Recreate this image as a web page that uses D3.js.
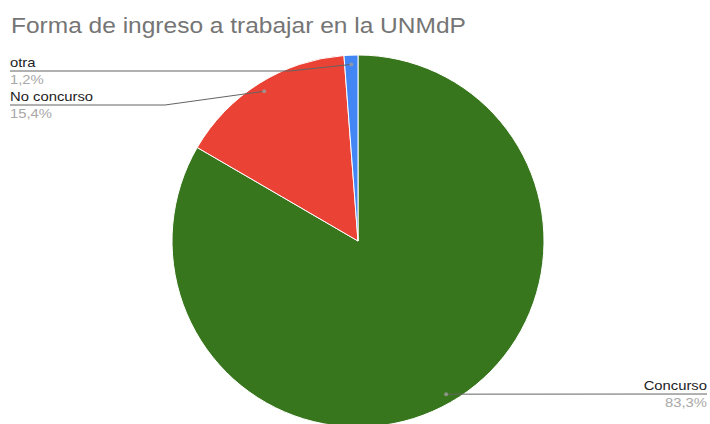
<!DOCTYPE html>
<html>
<head>
<meta charset="utf-8">
<script src="https://cdn.jsdelivr.net/npm/d3@7"></script>
<style>
  html, body { margin: 0; padding: 0; background: #fff; }
  svg { display: block; font-family: Arial, "Liberation Sans", sans-serif; }
</style>
</head>
<body>
<svg id="chart" width="710" height="424"></svg>
<script>
// Data: share of people by how they entered work at the UNMdP
const categories = ["Concurso", "No concurso", "otra"];
const values = [83.3, 15.4, 1.2];
const colors = ["#38761d", "#ea4335", "#4285f4"];
const title = "Forma de ingreso a trabajar en la UNMdP";

const svg = d3.select("#chart");
const W = 710, H = 424;
const cx = 358, cy = 241, r = 186;
const textStretch = 1.14;   // text is drawn slightly widened

svg.append("text")
  .attr("transform", `translate(11,33) scale(${textStretch},1)`)
  .attr("font-size", 21.5)
  .attr("fill", "#757575")
  .text(title);

const pie = d3.pie().sort(null).value(d => d.value);
const arcs = pie(categories.map((c, i) => ({ name: c, value: values[i], color: colors[i] })));
const arc = d3.arc().innerRadius(0).outerRadius(r);

const g = svg.append("g").attr("transform", `translate(${cx},${cy})`);
g.selectAll("path").data(arcs).join("path")
  .attr("d", arc)
  .attr("fill", d => d.data.color)
  .attr("stroke", "#fff")
  .attr("stroke-width", 1);

const fmt = v => d3.format(".1f")(v).replace(".", ",") + "%";

// Leader-line anchor at 95% of the radius on each slice's mid angle
function anchor(d) {
  const a = (d.startAngle + d.endAngle) / 2;
  const rr = r * 0.95;
  return [cx + Math.sin(a) * rr, cy - Math.cos(a) * rr];
}

// Label layout: side, line height and horizontal knee
const labelLayout = {
  "Concurso":    { side: "right", lineY: 394, knee: null },
  "No concurso": { side: "left",  lineY: 105, knee: 165 },
  "otra":        { side: "left",  lineY: 71,  knee: 290 }
};

const labels = svg.append("g");
arcs.forEach(d => {
  const L = labelLayout[d.data.name];
  const [px, py] = anchor(d);
  let pts;
  if (L.side === "left") {
    pts = [[10, L.lineY], [L.knee, L.lineY], [px, py]];
  } else {
    pts = [[px, py], [W - 3, L.lineY]];
  }
  labels.append("path")
    .attr("d", d3.line()(pts))
    .attr("fill", "none")
    .attr("stroke", "#636363")
    .attr("stroke-width", 1);
  labels.append("circle")
    .attr("cx", px).attr("cy", py).attr("r", 2)
    .attr("fill", "#9e9e9e").attr("opacity", 0.8);

  const tx = L.side === "left" ? 10 : W - 3;
  const anchorTxt = L.side === "left" ? "start" : "end";
  labels.append("text")
    .attr("transform", `translate(${tx},${L.lineY - 4}) scale(${textStretch},1)`)
    .attr("font-size", 13).attr("fill", "#222")
    .attr("text-anchor", anchorTxt)
    .text(d.data.name);
  labels.append("text")
    .attr("transform", `translate(${tx},${L.lineY + 13}) scale(${textStretch},1)`)
    .attr("font-size", 13).attr("fill", "#a8a8a8")
    .attr("text-anchor", anchorTxt)
    .text(fmt(d.data.value));
});
</script>
</body>
</html>
